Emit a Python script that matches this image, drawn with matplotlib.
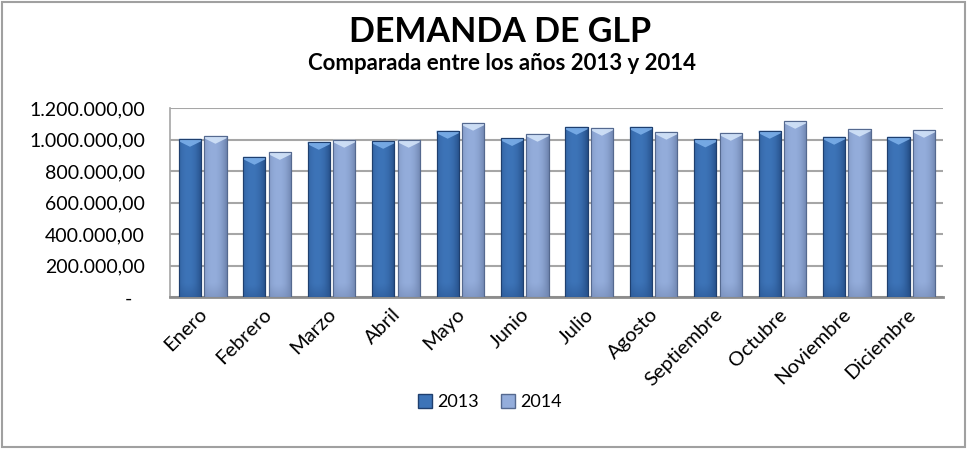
import matplotlib
matplotlib.use("Agg")
import matplotlib.pyplot as plt
import numpy as np
from matplotlib.patches import Rectangle, Patch, Polygon
from matplotlib.colors import to_rgb
import matplotlib.transforms as mtransforms

months = ["Enero", "Febrero", "Marzo", "Abril", "Mayo", "Junio", "Julio",
          "Agosto", "Septiembre", "Octubre", "Noviembre", "Diciembre"]
demand_2013 = [1005000, 891000, 986000, 992000, 1056000, 1010000, 1081000,
               1081000, 1001000, 1056000, 1018000, 1018000]
demand_2014 = [1024000, 922000, 999000, 999000, 1107000, 1037000, 1075000,
               1050000, 1043000, 1119000, 1069000, 1062000]
years = ["2013", "2014"]
y_ticks = [0, 200000, 400000, 600000, 800000, 1000000, 1200000]

plt.rcParams['font.family'] = ['Lato', 'DejaVu Sans']

fig = plt.figure(figsize=(9.67, 4.49), dpi=100)
ax = fig.add_axes([170/967, 1-297.3/449, (943-170)/967, (297.3-108)/449])

x = np.arange(len(months))
width = 0.345
offsets = [-0.19, 0.205]
styles = [
    dict(mid="#3d74b8", edge="#244d85", dark="#2a5693", top="#7fb2ec", line="#1f3f6e"),
    dict(mid="#94addb", edge="#6d83ad", dark="#7389b5", top="#d6e6fa", line="#55698f"),
]

def gradient_img(st, n=40, m=60):
    mid = np.array(to_rgb(st["mid"]))
    edge = np.array(to_rgb(st["edge"]))
    dark = np.array(to_rgb(st["dark"]))
    u = np.linspace(0, 1, n)
    prof = np.clip(1 - np.abs((u - 0.4) / 0.6) ** 2.2, 0, 1)
    row = edge[None, :] * (1 - prof[:, None]) + mid[None, :] * prof[:, None]
    v = np.linspace(0, 1, m)  # 0 bottom, 1 top
    vb = np.clip(1 - v / 0.08, 0, 1)[:, None, None] * 0.5
    img = row[None, :, :] * (1 - vb) + dark[None, None, :] * vb
    return img[::-1]

px = 1200000 / 189.3  # data units per pixel
for k, (vals, st) in enumerate(zip([demand_2013, demand_2014], styles)):
    bars = ax.bar(x + offsets[k], vals, width, color=st["mid"],
                  edgecolor=st["line"], linewidth=0.8, zorder=3)
    img = gradient_img(st)
    for b in bars:
        x0, w, h = b.get_x(), b.get_width(), b.get_height()
        im = ax.imshow(img, extent=[x0, x0 + w, 0, h], aspect='auto',
                       zorder=3.1, interpolation='bilinear')
        im.set_clip_path(b)
        xc = x0 + w / 2
        poly = Polygon([(x0, h), (x0 + w, h), (x0 + w, h - 2.5 * px),
                        (xc, h - 8 * px), (x0, h - 2.5 * px)],
                       closed=True, facecolor=st["top"], edgecolor='none',
                       alpha=0.85, zorder=3.2)
        ax.add_patch(poly)
        ax.add_patch(Rectangle((x0, 0), w, h, facecolor='none',
                               edgecolor=st["line"], linewidth=0.8, zorder=3.3))

ax.set_xlim(-0.5, len(months) - 0.5)
ax.set_ylim(0, 1200000)
ax.set_yticks(y_ticks)
ax.set_yticklabels(["-"] + [f"{v:,.2f}".replace(",", "X").replace(".", ",").replace("X", ".")
                            for v in y_ticks[1:]], fontsize=14)
ax.set_xticks(x)
ax.set_xticklabels(months, rotation=45, ha='right', rotation_mode='anchor', fontsize=14.5)
ax.yaxis.grid(True, color="#a6a6a6", linewidth=1.5, zorder=0)
ax.set_axisbelow(True)
for s in ["top", "right"]:
    ax.spines[s].set_visible(False)
ax.spines["left"].set_color("#a6a6a6")
ax.spines["left"].set_linewidth(1.2)
ax.spines["bottom"].set_color("#8c8c8c")
ax.spines["bottom"].set_linewidth(2)
ax.tick_params(axis='x', length=0, pad=6)
ax.tick_params(axis='y', length=0, pad=0)

# place y labels: right edge 25 px left of the axis; "-" further left
for i, lbl in enumerate(ax.get_yticklabels()):
    dx = -25 if i > 0 else -38
    lbl.set_transform(ax.get_yaxis_transform(which='tick1') +
                      mtransforms.ScaledTranslation(dx/100, 0, fig.dpi_scale_trans))
for lbl in ax.get_xticklabels():
    lbl.set_transform(lbl.get_transform() +
                      mtransforms.ScaledTranslation(-4/100, 0, fig.dpi_scale_trans))

fig.text(500/967, 1 - 42/449, "DEMANDA DE GLP", ha='center', va='baseline',
         fontsize=24.5, fontweight='bold')
fig.text(502/967, 1 - 70/449, "Comparada entre los años 2013 y 2014", ha='center',
         va='baseline', fontsize=16, fontweight='bold')

handles = [Patch(facecolor=styles[0]["mid"], edgecolor=styles[0]["line"]),
           Patch(facecolor=styles[1]["mid"], edgecolor=styles[1]["line"])]
fig.legend(handles, years, loc='center', bbox_to_anchor=(490/967, 1 - 402/449),
           ncol=2, frameon=False, fontsize=13, handlelength=0.8, handleheight=0.8,
           handletextpad=0.3, columnspacing=1.2)

fig.patches.append(Rectangle((2/967, 2/449), 963/967, 445/449, transform=fig.transFigure,
                             fill=False, edgecolor="#a0a0a0", linewidth=1.5))

fig.savefig("out.png", dpi=100)
